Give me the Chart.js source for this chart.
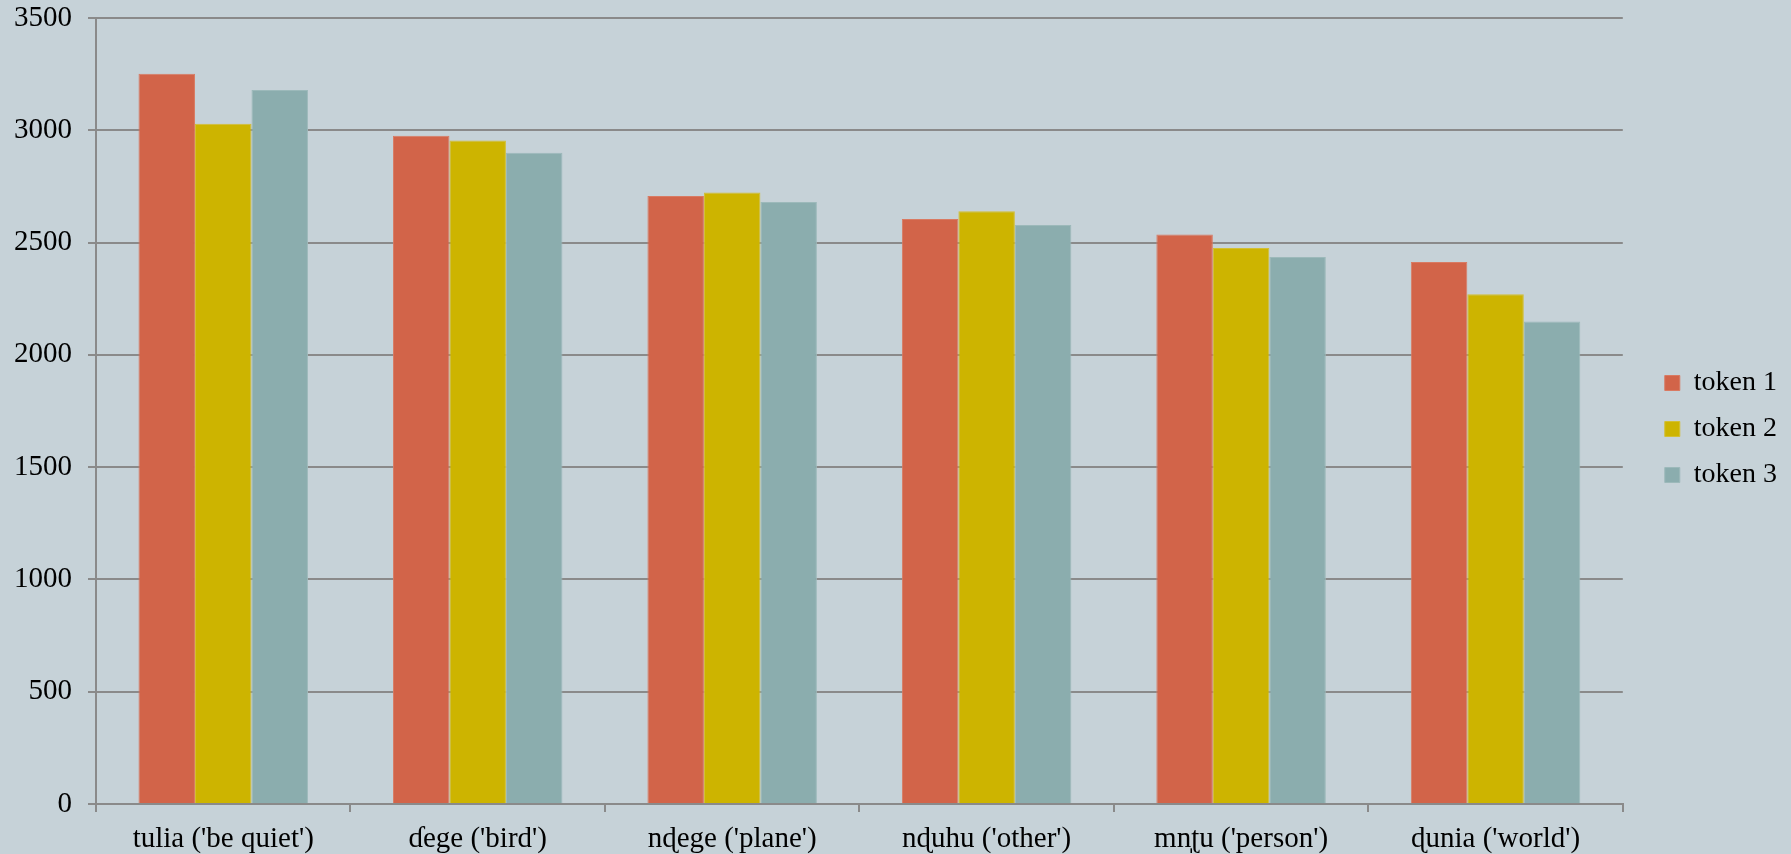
<!DOCTYPE html>
<html>
<head>
<meta charset="utf-8">
<script src="https://cdn.jsdelivr.net/npm/chart.js@4"></script>
<style>
  html, body { margin: 0; padding: 0; background: #C6D2D8; }
  #wrap { width: 1791px; height: 854px; position: relative; }
</style>
</head>
<body>
<div id="wrap"><canvas id="chart"></canvas></div>
<script>
const categories = ["tulia ('be quiet')", "ɗege ('bird')", "nɖege ('plane')", "nɖuhu ('other')", "mn̩ʈu ('person')", "ɖunia ('world')"];
const token1 = [3252, 2976, 2707, 2605, 2536, 2413];
const token2 = [3029, 2954, 2723, 2640, 2476, 2270];
const token3 = [3179, 2900, 2681, 2578, 2436, 2148];
const yTicks = [0, 500, 1000, 1500, 2000, 2500, 3000, 3500];

const gridColor = "#8a8a8a";
Chart.defaults.font.family = "'Liberation Serif', 'DejaVu Serif', serif";
Chart.defaults.color = "#000";

const ctx = document.getElementById("chart").getContext("2d");
new Chart(ctx, {
    type: "bar",
    data: {
        labels: categories,
        datasets: [
            { label: "token 1", data: token1, backgroundColor: "#D26449", borderColor: "#d97a62", borderWidth: 1 },
            { label: "token 2", data: token2, backgroundColor: "#CDB400", borderColor: "#d3bf33", borderWidth: 1 },
            { label: "token 3", data: token3, backgroundColor: "#8BADAE", borderColor: "#9cb9ba", borderWidth: 1 },
        ],
    },
    options: {
        responsive: true,
        maintainAspectRatio: false,
        animation: false,
        categoryPercentage: 0.666,
        barPercentage: 1,
        layout: { padding: { top: 4, left: 0, right: 4, bottom: 0 } },
        plugins: {
            legend: {
                position: "right",
                labels: { boxWidth: 15, boxHeight: 15, padding: 18, font: { size: 28 } },
            },
            tooltip: { enabled: false },
        },
        scales: {
            x: {
                grid: { display: true, drawOnChartArea: false, drawTicks: true, tickLength: 8, color: gridColor, lineWidth: 2, offset: true },
                border: { display: true, color: gridColor, width: 2 },
                ticks: { font: { size: 29, lineHeight: 1 }, padding: 13, maxRotation: 0 },
                afterFit: (s) => { s.height = 50; s.paddingLeft = 0; s.paddingRight = 0; },
            },
            y: {
                min: 0,
                max: 3500,
                afterBuildTicks: (s) => { s.ticks = yTicks.map((v) => ({ value: v })); },
                afterFit: (s) => { s.width = 96; s.paddingTop = 18; s.paddingBottom = 0; },
                grid: { color: gridColor, lineWidth: 2, tickLength: 8 },
                border: { display: true, color: gridColor, width: 2 },
                ticks: { font: { size: 29 }, padding: 16, callback: (v) => String(v) },
            },
            yRight: {
                position: "right",
                display: true,
                grid: { display: false },
                border: { display: false },
                ticks: { display: false },
                afterFit: (s) => { s.width = 24; s.paddingTop = 0; s.paddingBottom = 0; },
            },
        },
    },
});
</script>
</body>
</html>
